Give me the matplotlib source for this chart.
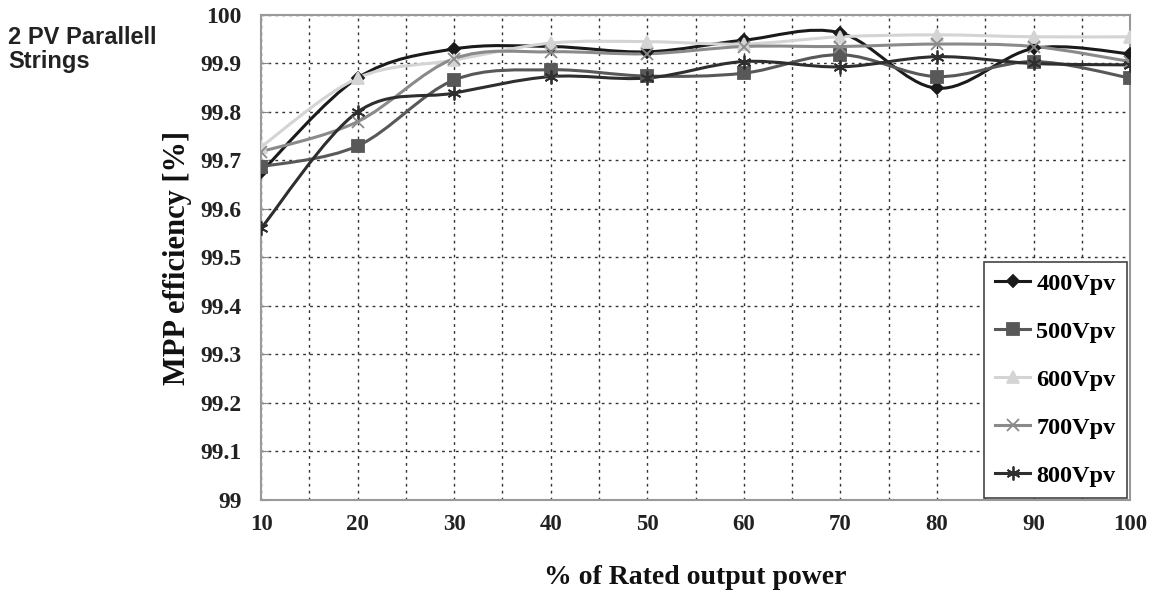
import numpy as np
import matplotlib
matplotlib.use("Agg")
import matplotlib.pyplot as plt
from matplotlib.path import Path
from matplotlib.patches import PathPatch
from matplotlib.lines import Line2D

power = [10, 20, 30, 40, 50, 60, 70, 80, 90, 100]
v400 = [99.676, 99.87, 99.93, 99.935, 99.924, 99.948, 99.963, 99.849, 99.931, 99.92]
v500 = [99.687, 99.73, 99.866, 99.887, 99.874, 99.88, 99.918, 99.873, 99.904, 99.87]
v600 = [99.728, 99.87, 99.907, 99.942, 99.945, 99.94, 99.955, 99.959, 99.955, 99.955]
v700 = [99.718, 99.78, 99.91, 99.924, 99.92, 99.935, 99.935, 99.94, 99.935, 99.904]
v800 = [99.56, 99.80, 99.839, 99.873, 99.87, 99.904, 99.893, 99.914, 99.90, 99.897]

labels = ["400Vpv", "500Vpv", "600Vpv", "700Vpv", "800Vpv"]
series = [v400, v500, v600, v700, v800]
colors = ["#1a1a1a", "#585858", "#d4d4d4", "#8a8a8a", "#2e2e2e"]
markers = ["D", "s", "^", "x", (6, 2, 0)]
msizes = [6, 8, 9, 9, 10]

serif = "Liberation Serif"


def smooth_path(x, y, t=1 / 6):
    # Catmull-Rom style bezier like Excel's smoothed line
    x = np.asarray(x, float)
    y = np.asarray(y, float)
    verts = [(x[0], y[0])]
    codes = [Path.MOVETO]
    n = len(x)
    for i in range(n - 1):
        p0 = (x[i - 1], y[i - 1]) if i > 0 else (x[i], y[i])
        p3 = (x[i + 2], y[i + 2]) if i < n - 2 else (x[i + 1], y[i + 1])
        c1 = (x[i] + (x[i + 1] - p0[0]) * t, y[i] + (y[i + 1] - p0[1]) * t)
        c2 = (x[i + 1] - (p3[0] - x[i]) * t, y[i + 1] - (p3[1] - y[i]) * t)
        verts += [c1, c2, (x[i + 1], y[i + 1])]
        codes += [Path.CURVE4] * 3
    return Path(verts, codes)


fig = plt.figure(figsize=(11.52, 5.99), dpi=100)
ax = fig.add_axes([0.2266, 0.1653, 0.7544, 0.8097])

handles = []
for vals, lab, c, m, ms in zip(series, labels, colors, markers, msizes):
    patch = PathPatch(smooth_path(power, vals), facecolor="none", edgecolor=c, lw=2.2, zorder=3)
    ax.add_patch(patch)
    ax.plot(power, vals, linestyle="none", marker=m, color=c, markersize=ms,
            markeredgewidth=1.3, zorder=4)
    handles.append(Line2D([], [], color=c, lw=2.2, marker=m, markersize=ms, markeredgewidth=1.3))

ax.set_xlim(10, 100)
ax.set_ylim(99, 100)
ax.set_xticks(power)
ax.set_xticks(np.arange(15, 100, 10), minor=True)
ax.set_yticks(np.round(np.arange(99, 100.01, 0.1), 1))
ax.set_yticklabels(["99", "99.1", "99.2", "99.3", "99.4", "99.5", "99.6", "99.7", "99.8", "99.9", "100"],
                   fontfamily=serif, fontsize=17, fontweight="bold", color="#222222")
ax.set_xticklabels([str(p) for p in power], fontfamily=serif, fontsize=16.5, fontweight="bold",
                   color="#222222")
ax.grid(True, which="both", axis="x", linestyle=(0, (2, 3)), color="#333333", lw=1)
ax.grid(True, which="major", axis="y", linestyle=(0, (2, 3)), color="#333333", lw=1)
ax.tick_params(axis="x", which="both", length=0, pad=10)
ax.tick_params(axis="y", length=6, direction="in", pad=14, color="#888888")
for s in ax.spines.values():
    s.set_color("#999999")
    s.set_linewidth(1.5)

ax.set_xlabel("% of Rated output power", fontfamily=serif, fontsize=20, fontweight="bold",
              labelpad=22, color="#111111")
ax.set_ylabel("MPP efficiency [%]", fontfamily=serif, fontsize=22, fontweight="bold",
              labelpad=6, color="#111111")

leg = ax.legend(handles, labels, loc="lower right", bbox_to_anchor=(0.999, 0.0), numpoints=1,
                prop={"family": serif, "weight": "bold", "size": 17.5}, fancybox=False,
                framealpha=1, edgecolor="#444444", handlelength=1.45, handletextpad=0.25,
                labelspacing=1.07, borderpad=0.45, borderaxespad=0.1)
leg.get_frame().set_linewidth(1.2)

fig.text(0.007, 0.957, "2 PV Parallell\nStrings", fontfamily="Liberation Sans", fontweight="bold",
         fontsize=17, color="#222222", va="top", ha="left", linespacing=1.05)

fig.savefig("out.png", dpi=100)
